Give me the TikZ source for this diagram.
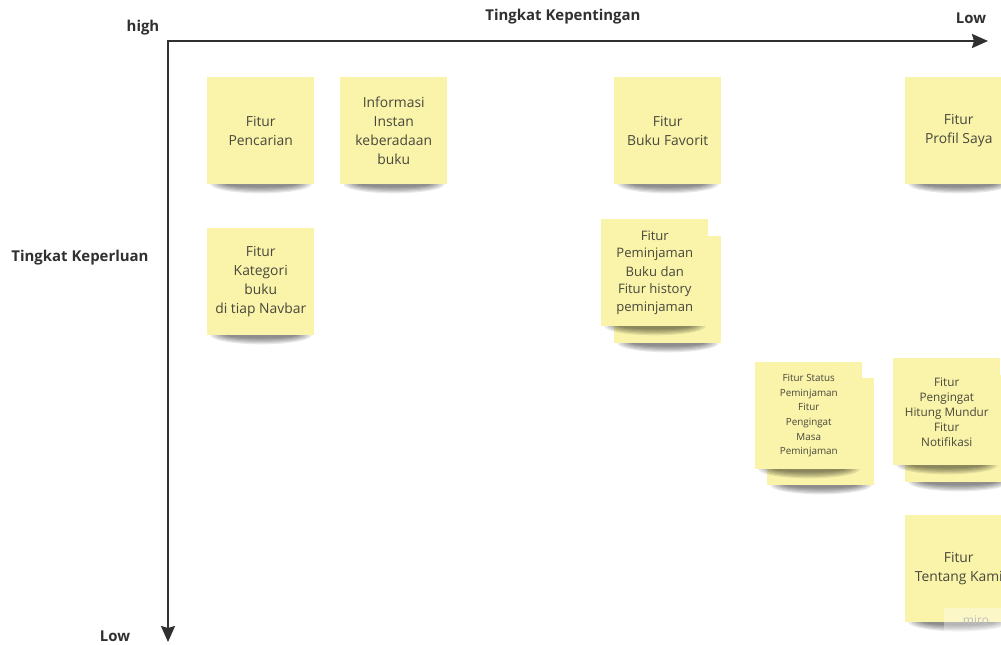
\documentclass[tikz,border=0pt]{standalone}
\usepackage{fontspec}
\setmainfont{Open Sans}
\usetikzlibrary{arrows.meta}
\definecolor{notey}{RGB}{250,243,170}
\definecolor{notetext}{RGB}{72,72,60}
\definecolor{axisc}{RGB}{48,48,48}
\tikzset{
  x=0.75pt,y=-0.75pt,
  sticky/.style={fill=notey, draw=none, minimum width=80.25pt, minimum height=80.25pt,
    inner sep=0pt, anchor=north west, align=center, text=notetext,
    font=\fontsize{10.4}{14.2}\selectfont},
  smallnote/.style={font=\fontsize{7.4}{10.9}\selectfont},
  midnote/.style={font=\fontsize{8.8}{11.25}\selectfont},
  peminote/.style={font=\fontsize{9.8}{13.5}\selectfont},
  axisline/.style={draw=axisc, line width=1.6pt, -{Stealth[length=12pt,width=10.5pt,inset=1.5pt]}},
  lbl/.style={text=axisc, font=\bfseries\fontsize{11.2}{13}\selectfont, inner sep=0pt},
  shade/.style={black, opacity=0.09},
}
% shadow under a note whose top-left corner is at (#1,#2) in pixels
\newcommand{\noteshadow}[2]{%
  \foreach \k in {0,...,5}{%
    \fill[shade] ({#1+54},{#2+107}) ellipse [x radius={38pt-\k*2.2pt}, y radius={7pt-\k*0.9pt}];
  }%
}
% \sticknote[options]{name}{x}{y}{text}
\newcommand{\sticknote}[5][]{%
  \noteshadow{#3}{#4}%
  \node[sticky,#1] (#2) at (#3,#4) {#5};%
}
\begin{document}
\begin{tikzpicture}
\useasboundingbox (0,0) rectangle (1001,644);
\fill[white] (0,0) rectangle (1001,644);
\begin{scope}
\clip (0,0) rectangle (1001,644);

% axes
\coordinate (o) at (167,41);
\coordinate (xe) at (988,41);
\coordinate (ytop) at (168,40);
\coordinate (ye) at (168,642);
\draw[axisline] (o) -- (xe);
\draw[axisline] (ytop) -- (ye);

% axis labels
\node[lbl] (high) at (143,28) {high};
\node[lbl] (tkep) at (563,17) {Tingkat Kepentingan};
\node[lbl] (lowx) at (971,18) {Low};
\node[lbl] (tkel) at (80,258) {Tingkat Keperluan};
\node[lbl] (lowy) at (115,636) {Low};

% row 1
\sticknote{n1}{207}{77}{Fitur\\Pencarian}
\sticknote{n2}{340}{77}{Informasi\\Instan\\keberadaan\\buku}
\sticknote{n3}{614}{77}{Fitur\\Buku Favorit}
\sticknote{n4}{905}{77}{Fitur\\Profil Saya}

% kategori
\sticknote{n5}{207}{228}{Fitur\\Kategori\\buku\\di tiap Navbar}

% stacked peminjaman
\sticknote{n6b}{614}{236}{}
\sticknote[peminote]{n6}{601}{219}{Fitur\\Peminjaman\\Buku dan\\Fitur history\\peminjaman}

% stacked status
\sticknote{n7b}{767}{378}{}
\sticknote[smallnote]{n7}{755}{362}{Fitur Status\\Peminjaman\\Fitur\\Pengingat\\Masa\\Peminjaman}

% stacked pengingat
\sticknote{n8b}{905}{375}{}
\sticknote[midnote]{n8}{893}{358}{Fitur\\Pengingat\\Hitung Mundur\\Fitur\\Notifikasi}

% tentang kami
\sticknote{n9}{905}{515}{Fitur\\Tentang Kami}

% watermark
\fill[white,opacity=0.35] (944,608) rectangle (1001,631);
\node[text=black!25, font=\fontsize{9}{10}\selectfont, inner sep=0pt] (miro) at (976,620) {miro};
\end{scope}
\end{tikzpicture}
\end{document}
